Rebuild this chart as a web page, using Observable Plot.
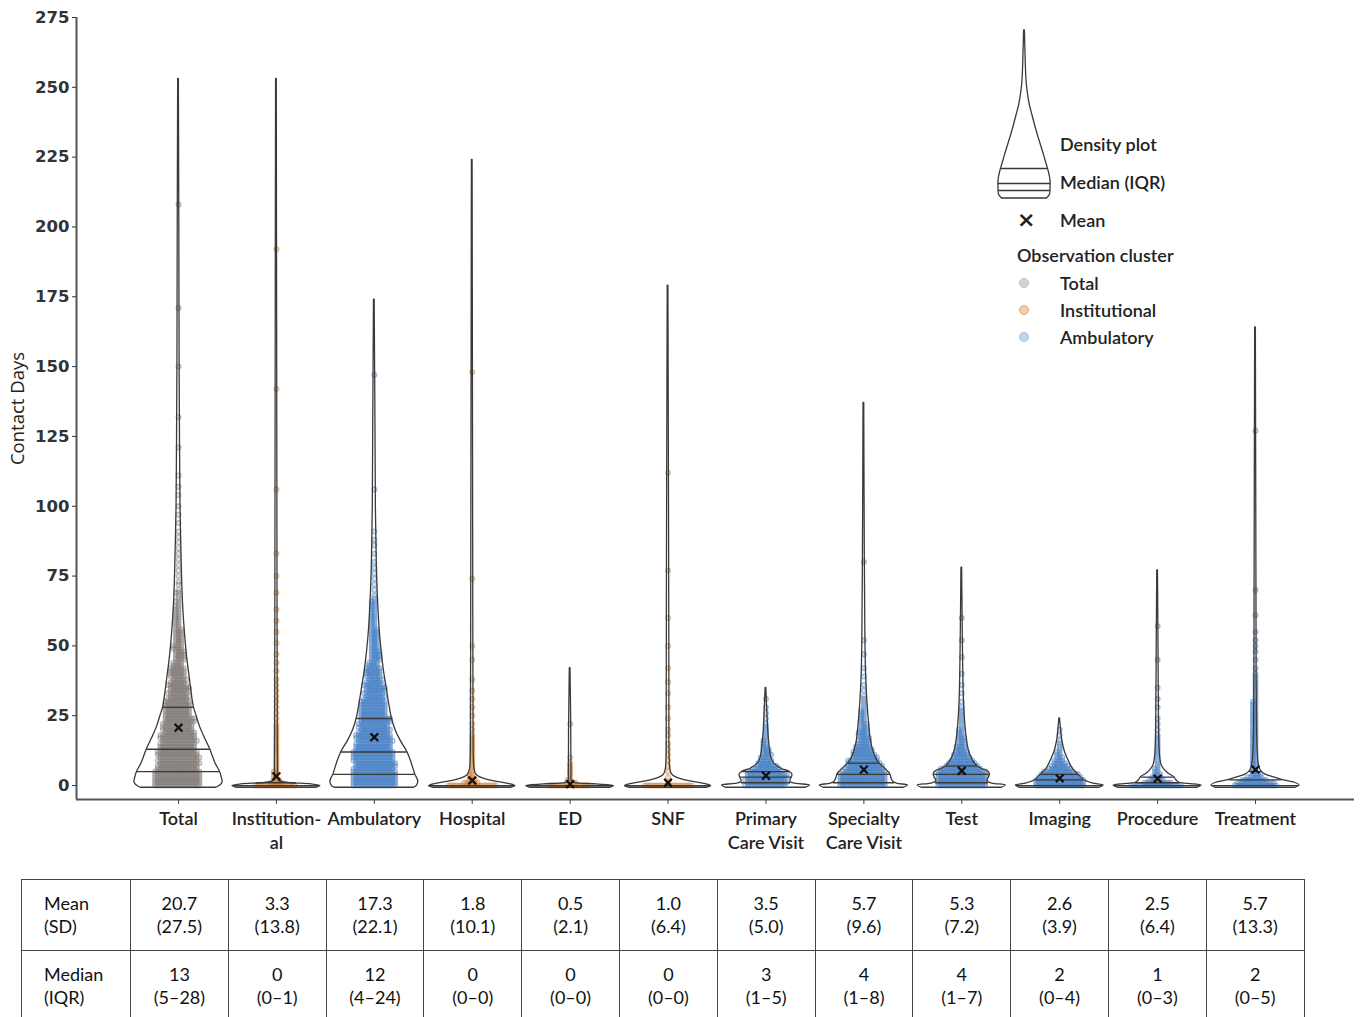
<!DOCTYPE html>
<html><head><meta charset="utf-8">
<script src="https://cdn.jsdelivr.net/npm/d3@7"></script>
<script src="https://cdn.jsdelivr.net/npm/@observablehq/plot@0.6"></script>
<style>
body{margin:0;background:#fff;}
#wrap{position:relative;width:1360px;height:1017px;overflow:hidden;font-family:Lato,"Open Sans",sans-serif;color:#222;}
#chart{position:absolute;left:0;top:0;}
#glyph{position:absolute;left:994px;top:23px;}
.lg{position:absolute;font-size:18px;font-weight:600;line-height:1;white-space:nowrap;transform:translateY(-50%);color:#222;}
.ld{position:absolute;width:8px;height:8px;border-radius:50%;transform:translate(-50%,-50%);}
#tbl{position:absolute;left:21px;top:879px;border-collapse:collapse;table-layout:fixed;font-size:18px;font-family:Lato,"Open Sans",sans-serif;color:#111;}
#tbl td{border:1.5px solid #444;height:70px;text-align:center;line-height:23px;padding:0;}
#tbl td.h{text-align:left;padding-left:22px;}
</style>
</head><body><div id="wrap"><div id="chart"></div><div id="glyph"></div><div id="legend"></div><table id="tbl"></table></div>
<script>
// ---------- data ----------
const categories = ["Total","Institutional","Ambulatory","Hospital","ED","SNF","Primary Care Visit","Specialty Care Visit","Test","Imaging","Procedure","Treatment"];
const tickLabels = ["Total","Institution-\nal","Ambulatory","Hospital","ED","SNF","Primary\nCare Visit","Specialty\nCare Visit","Test","Imaging","Procedure","Treatment"];
const cluster = ["Total","Institutional","Ambulatory","Institutional","Institutional","Institutional","Ambulatory","Ambulatory","Ambulatory","Ambulatory","Ambulatory","Ambulatory"];
const means = [20.7,3.3,17.3,1.8,0.5,1.0,3.5,5.7,5.3,2.6,2.5,5.7];
const sds = [27.5,13.8,22.1,10.1,2.1,6.4,5.0,9.6,7.2,3.9,6.4,13.3];
const medians = [13,0,12,0,0,0,3,4,4,2,1,2];
const q1s = [5,0,4,0,0,0,1,1,1,0,0,0];
const q3s = [28,1,24,0,0,0,5,8,7,4,3,5];
const yTicks = [0,25,50,75,100,125,150,175,200,225,250,275];
// violin half-width (relative to widest) at each quartile
const q1W = [0.94,0.98,0.93,0.98,0.98,0.98,0.56,0.7,0.6,0.98,0.98,0.98];
const medW = [0.72,0.98,0.75,0.98,0.98,0.98,0.59,0.6,0.63,0.55,0.5,0.6];
const q3W = [0.35,0.45,0.4,0.98,0.98,0.98,0.53,0.35,0.35,0.42,0.38,0.14];

// density profiles: [value, relative half-width]
const totalViolin = [[-0.8,.86],[0,.95],[1,1],[2.5,.99],[5,.94],[8,.84],[13,.72],[17,.6],[21,.49],[25,.41],[28,.35],[33,.3],[38,.26],[44,.21],[50,.17],[58,.13],[66,.1],[75,.08],[88,.06],[100,.045],[120,.035],[150,.025],[200,.018],[253,.008]];
const institutionalViolin = [[-0.8,.9],[-0.2,1],[0.4,.8],[0.9,.3],[1.5,.08],[2.5,.04],[6,.035],[20,.03],[60,.025],[120,.02],[253,.008]];
const ambulatoryViolin = [[-0.8,.9],[0,.97],[1.5,1],[4,.93],[8,.85],[12,.75],[16,.6],[20,.48],[24,.4],[30,.33],[36,.27],[42,.21],[54,.13],[66,.085],[80,.055],[100,.035],[130,.025],[174,.008]];
const hospitalViolin = [[-0.8,.88],[-0.2,.98],[0.5,.85],[1.2,.6],[2,.35],[3,.17],[4,.09],[6,.05],[10,.035],[20,.03],[50,.025],[100,.02],[224,.008]];
const edViolin = [[-0.8,.9],[-0.2,1],[0.4,.6],[0.9,.12],[1.5,.04],[5,.03],[20,.025],[42,.008]];
const snfViolin = [[-0.8,.88],[-0.2,.98],[0.5,.85],[1.2,.6],[2,.35],[3,.17],[4,.09],[6,.05],[10,.035],[30,.03],[80,.025],[179,.008]];
const primaryViolin = [[-0.8,.9],[0,1],[0.6,.7],[1.2,.56],[2,.56],[3,.59],[4,.6],[5,.53],[6,.35],[8,.18],[10,.12],[13,.09],[16,.07],[20,.05],[25,.035],[30,.02],[35,.008]];
const specialtyViolin = [[-0.8,.9],[0,1],[0.7,.75],[1.5,.66],[3,.62],[4,.6],[5,.55],[6.5,.45],[8,.35],[10,.27],[12,.22],[16,.16],[22,.12],[30,.08],[40,.05],[52,.035],[80,.022],[137,.008]];
const testViolin = [[-0.8,.9],[0,1],[0.7,.7],[1.5,.58],[3,.62],[4,.64],[5,.6],[6,.45],[7,.35],[9,.25],[12,.17],[16,.12],[22,.08],[30,.05],[45,.03],[78,.008]];
const imagingViolin = [[-0.8,.9],[0,1],[0.8,.75],[2,.55],[3,.48],[4,.42],[6,.3],[9,.2],[12,.12],[16,.06],[20,.03],[24,.008]];
const procedureViolin = [[-0.8,.9],[0,1],[0.6,.7],[1,.5],[2,.42],[3,.38],[4.5,.23],[7,.1],[10,.06],[15,.04],[25,.03],[50,.02],[77,.008]];
const treatmentViolin = [[-0.8,.9],[0,1],[1,.9],[2,.6],[3,.4],[4,.22],[5,.14],[6,.1],[8,.07],[12,.05],[20,.035],[40,.025],[80,.02],[164,.008]];

// observations: [contact days, number of dots]
const totalDots = [[0,18],[1,18],[2,18],[3,18],[4,18],[5,18],[6,16],[7,16],[8,16],[9,16],[10,16],[11,16],[12,16],[13,14],[14,14],[15,14],[16,14],[17,14],[18,14],[19,12],[20,12],[21,12],[22,12],[23,12],[24,12],[25,10],[26,10],[27,10],[28,10],[29,10],[30,10],[31,8],[32,8],[33,8],[34,8],[35,8],[36,8],[37,6],[38,6],[39,6],[40,6],[41,6],[42,6],[43,4],[44,4],[45,4],[46,4],[47,4],[48,4],[49,4],[50,4],[51,3],[52,3],[53,3],[54,3],[55,3],[56,3],[57,2],[58,2],[59,2],[60,2],[61,2],[62,2],[63,2],[64,2],[65,1],[66,2],[67,1],[68,1],[69,2],[70,1],[72,1],[73,1],[75,1],[77,1],[79,1],[81,1],[83,1],[85,1],[87,1],[89,1],[91,1],[94,1],[97,1],[100,1],[104,1],[107,1],[111,1],[121,1],[132,1],[150,1],[171,1],[208,1]];
const institutionalDots = [[0,16],[1,5],[2,3],[3,2],[4,2],[5,2],[6,1],[7,1],[8,1],[9,1],[10,1],[11,1],[12,1],[13,1],[14,1],[15,1],[16,1],[17,1],[18,1],[19,1],[20,1],[21,1],[22,1],[24,1],[26,1],[28,1],[30,1],[32,1],[34,1],[36,1],[38,1],[41,1],[44,1],[47,1],[51,1],[55,1],[59,1],[63,1],[69,1],[75,1],[83,1],[106,1],[142,1],[192,1]];
const ambulatoryDots = [[0,17],[1,17],[2,17],[3,17],[4,17],[5,17],[6,16],[7,16],[8,16],[9,16],[10,16],[11,16],[12,16],[13,14],[14,14],[15,14],[16,14],[17,14],[18,14],[19,12],[20,12],[21,12],[22,12],[23,12],[24,12],[25,10],[26,10],[27,10],[28,10],[29,10],[30,10],[31,8],[32,8],[33,8],[34,8],[35,8],[36,8],[37,6],[38,6],[39,6],[40,6],[41,6],[42,6],[43,4],[44,4],[45,4],[46,4],[47,4],[48,4],[49,3],[50,3],[51,3],[52,3],[53,3],[54,3],[55,3],[56,3],[57,2],[58,2],[59,2],[60,2],[61,2],[62,2],[63,2],[64,2],[65,2],[66,2],[67,1],[68,1],[70,1],[72,1],[74,1],[76,1],[78,1],[80,1],[83,1],[86,1],[88,1],[91,1],[106,1],[147,1]];
const hospitalDots = [[0,19],[1,6],[2,3],[3,2],[4,2],[5,1],[6,1],[7,1],[8,1],[9,1],[10,1],[11,1],[12,1],[13,1],[14,1],[15,1],[16,1],[17,1],[18,1],[20,1],[22,1],[25,1],[28,1],[31,1],[34,1],[38,1],[45,1],[50,1],[74,1],[148,1]];
const edDots = [[0,16],[1,4],[2,2],[3,1],[4,1],[5,1],[6,1],[7,1],[8,1],[10,1],[22,1]];
const snfDots = [[0,19],[1,1],[3,1],[5,1],[7,1],[9,1],[11,1],[13,1],[15,1],[18,1],[20,1],[24,1],[28,1],[33,1],[37,1],[42,1],[50,1],[60,1],[77,1],[112,1]];
const primaryDots = [[0,16],[1,16],[2,16],[3,16],[4,16],[5,14],[6,11],[7,8],[8,6],[9,5],[10,4],[11,4],[12,3],[13,3],[14,2],[15,2],[16,2],[17,1],[18,1],[19,1],[20,1],[21,1],[22,1],[24,1],[26,1],[28,1],[31,1]];
const specialtyDots = [[0,18],[1,18],[2,18],[3,18],[4,18],[5,17],[6,15],[7,14],[8,13],[9,12],[10,10],[11,9],[12,8],[13,7],[14,6],[15,5],[16,5],[17,4],[18,4],[19,4],[20,3],[21,3],[22,3],[23,2],[24,2],[25,2],[26,2],[27,2],[28,1],[29,1],[30,1],[31,1],[32,1],[34,1],[36,1],[39,1],[42,1],[47,1],[52,1],[80,1]];
const testDots = [[0,19],[1,19],[2,19],[3,19],[4,19],[5,19],[6,16],[7,13],[8,11],[9,9],[10,7],[11,6],[12,5],[13,4],[14,4],[15,3],[16,3],[17,3],[18,2],[19,2],[20,2],[21,1],[22,1],[23,1],[24,1],[25,1],[26,1],[27,1],[28,1],[30,1],[33,1],[36,1],[40,1],[46,1],[52,1],[60,1]];
const imagingDots = [[0,19],[1,19],[2,19],[3,17],[4,15],[5,12],[6,9],[7,7],[8,5],[9,4],[10,3],[11,2],[12,2],[13,1],[14,1],[15,1],[16,1],[18,1],[20,1]];
const procedureDots = [[0,20],[1,11],[2,6],[3,4],[4,3],[5,2],[6,2],[7,1],[8,1],[9,1],[10,1],[11,1],[12,1],[13,1],[14,1],[15,1],[16,1],[17,1],[18,1],[20,1],[22,1],[24,1],[28,1],[31,1],[35,1],[45,1],[57,1]];
const treatmentDots = [[0,17],[1,15],[2,10],[3,6],[4,4],[5,2],[6,2],[7,2],[8,2],[9,2],[10,2],[11,2],[12,2],[13,2],[14,2],[15,2],[16,2],[17,2],[18,2],[19,2],[20,2],[21,2],[22,2],[23,2],[24,2],[25,2],[26,2],[27,2],[28,2],[29,2],[30,2],[31,1],[32,1],[33,1],[34,1],[35,1],[36,1],[37,1],[38,1],[39,1],[40,1],[42,1],[45,1],[48,1],[50,1],[52,1],[55,1],[61,1],[70,1],[127,1]];

// legend glyph profile: [height from base, half-width]
const legendViolin = [[0,22.5],[4,25.5],[10,26],[18,26],[26,24.5],[33,22.5],[45,19],[58,15],[68,12],[83,8],[95,5],[108,3],[118,2],[138,1.2],[168,0.4]];
const legendLines = [[8,26],[15,26],[30,23.5]];

const violins = [totalViolin,institutionalViolin,ambulatoryViolin,hospitalViolin,edViolin,snfViolin,primaryViolin,specialtyViolin,testViolin,imagingViolin,procedureViolin,treatmentViolin];
const dots = [totalDots,institutionalDots,ambulatoryDots,hospitalDots,edDots,snfDots,primaryDots,specialtyDots,testDots,imagingDots,procedureDots,treatmentDots];
const clusterColor = {Total:"#7f7975", Institutional:"#d37d2c", Ambulatory:"#4580c6"};
const legendColor = {Total:["#d4d4d4","#bdbdbd"], Institutional:["#f3cba6","#e6ad7a"], Ambulatory:["#bcd6ef","#9dc1e6"]};

// ---------- chart ----------
const W = 1360, H = 870, ML = 76, MR = 6, MT = 17, MB = 71;
const xDomain = [-1.042, 12.011];
const S = 0.449;
const idx = categories.map((c, i) => i);
const xs = Plot.scale({x: {type: "linear", domain: xDomain, range: [ML, W - MR]}});
const mid = (ML + W - MR) / 2;
const violinRows = violins.flatMap((p, i) => p.map(([v, w]) => ({i, v, w})));
const qRows = idx.flatMap(i => [{i, v: q1s[i], w: q1W[i]}, {i, v: medians[i], w: medW[i]}, {i, v: q3s[i], w: q3W[i]}]);
const lineColor = "#3a3a3a";

const dotMarks = dots.map((arr, i) => {
  const rows = arr.flatMap(([v, c]) => Array.from({length: c}, () => ({v})));
  const col = clusterColor[cluster[i]];
  return Plot.dot(rows, Plot.dodgeX({anchor: "middle", padding: -2.2}, {
    y: "v", r: 2.4, fill: col, fillOpacity: 0.22, stroke: col, strokeOpacity: 0.5, strokeWidth: 1.2,
    dx: xs.apply(i) - mid
  }));
});

const chart = Plot.plot({
  width: W, height: H, marginLeft: ML, marginRight: MR, marginTop: MT, marginBottom: MB,
  style: {background: "transparent", overflow: "visible"},
  x: {type: "linear", domain: xDomain},
  y: {domain: [-5, 275]},
  marks: [
    Plot.areaX(violinRows, {y: "v", x1: d => d.i - d.w * S, x2: d => d.i + d.w * S, z: "i", curve: "catmull-rom", fill: "white", fillOpacity: 0.9}),
    ...dotMarks,
    Plot.areaX(violinRows, {y: "v", x1: d => d.i - d.w * S, x2: d => d.i + d.w * S, z: "i", curve: "catmull-rom", fill: "none", stroke: lineColor, strokeWidth: 1.3}),
    Plot.ruleY(qRows, {y: "v", x1: d => d.i - d.w * S, x2: d => d.i + d.w * S, stroke: lineColor, strokeWidth: 1.3}),
    Plot.dot(idx, {x: i => i, y: i => means[i], symbol: "times", r: 3.6, stroke: "#111", strokeWidth: 2.2}),
    Plot.ruleY([-5], {stroke: "#555", strokeWidth: 2}),
    Plot.ruleX([xDomain[0]], {stroke: "#555", strokeWidth: 2}),
    Plot.axisY(yTicks, {tickSize: 4, tickPadding: 3, fontSize: 16.5, fontFamily: "DejaVu Sans", fontWeight: "bold", color: "#333", label: null}),
    Plot.axisX(idx, {tickSize: 5, tickFormat: () => "", color: "#444", label: null}),
    Plot.text(idx, {x: i => i, frameAnchor: "bottom", text: i => tickLabels[i], lineAnchor: "top", dy: 9, lineHeight: 1.3, fontSize: 18, fontFamily: "Lato", fontWeight: 600, fill: "#222"}),
    Plot.text(["Contact Days"], {frameAnchor: "left", textAnchor: "middle", rotate: -90, dx: -58, fontSize: 18.5, fontFamily: "Open Sans", fontWeight: 500, fill: "#222"})
  ]
});
document.getElementById("chart").appendChild(chart);

// ---------- legend ----------
const glyph = Plot.plot({
  width: 60, height: 175, margin: 0,
  style: {background: "transparent", overflow: "visible"},
  x: {domain: [-30, 30], axis: null},
  y: {domain: [0, 175], axis: null},
  marks: [
    Plot.areaX(legendViolin, {y: d => d[0], x1: d => -d[1], x2: d => d[1], curve: "catmull-rom", fill: "white", stroke: lineColor, strokeWidth: 1.3}),
    Plot.ruleY(legendLines, {y: d => d[0], x1: d => -d[1], x2: d => d[1], stroke: lineColor, strokeWidth: 1.3})
  ]
});
document.getElementById("glyph").appendChild(glyph);

const legendItems = [
  {text: "Density plot", x: 1060, y: 144},
  {text: "Median (IQR)", x: 1060, y: 182},
  {text: "×", x: 1017, y: 220, bold: true},
  {text: "Mean", x: 1060, y: 220},
  {text: "Observation cluster", x: 1017, y: 255},
  {text: "Total", x: 1060, y: 283, dot: "Total"},
  {text: "Institutional", x: 1060, y: 310, dot: "Institutional"},
  {text: "Ambulatory", x: 1060, y: 337, dot: "Ambulatory"}
];
const lg = document.getElementById("legend");
for (const it of legendItems) {
  const s = document.createElement("div");
  s.className = "lg";
  s.textContent = it.text;
  s.style.left = it.x + "px";
  s.style.top = it.y + "px";
  if (it.bold) { s.style.fontWeight = "900"; s.style.fontSize = "22px"; s.style.fontFamily = "DejaVu Sans"; }
  lg.appendChild(s);
  if (it.dot) {
    const d = document.createElement("div");
    d.className = "ld";
    d.style.left = "1024px"; d.style.top = it.y + "px";
    d.style.background = legendColor[it.dot][0];
    d.style.border = "1px solid " + legendColor[it.dot][1];
    lg.appendChild(d);
  }
}

// ---------- table ----------
const tbl = document.getElementById("tbl");
const cg = document.createElement("colgroup");
cg.innerHTML = '<col style="width:109px">' + idx.map(() => '<col style="width:97.8px">').join("");
tbl.appendChild(cg);
const r1 = document.createElement("tr");
r1.innerHTML = '<td class="h">Mean<br>(SD)</td>' + idx.map(i => `<td>${means[i].toFixed(1)}<br>(${sds[i].toFixed(1)})</td>`).join("");
const r2 = document.createElement("tr");
r2.innerHTML = '<td class="h">Median<br>(IQR)</td>' + idx.map(i => `<td>${medians[i]}<br>(${q1s[i]}–${q3s[i]})</td>`).join("");
tbl.appendChild(r1); tbl.appendChild(r2);
</script>
</body></html>
